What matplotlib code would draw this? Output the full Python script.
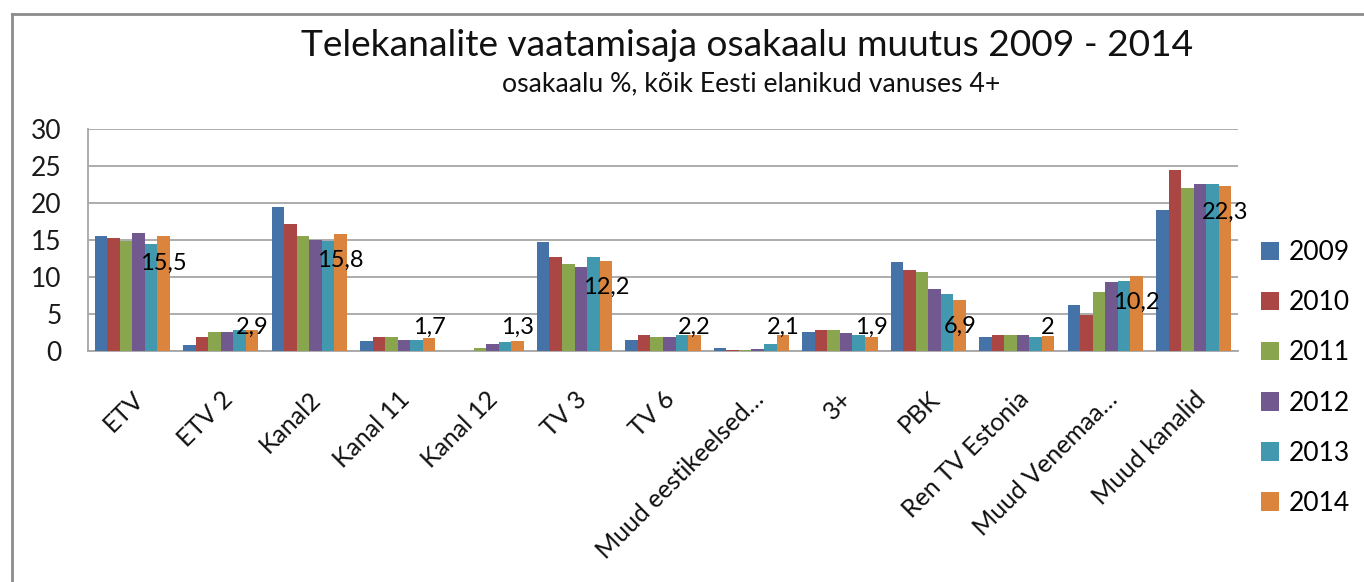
import numpy as np
import matplotlib.pyplot as plt
from matplotlib.lines import Line2D
from matplotlib.patches import Patch

plt.rcParams['font.family'] = ['Lato', 'DejaVu Sans']

# channels and yearly viewing shares (%)
channels = ['ETV', 'ETV 2', 'Kanal2', 'Kanal 11', 'Kanal 12', 'TV 3', 'TV 6',
            'Muud eestikeelsed…', '3+', 'PBK', 'Ren TV Estonia',
            'Muud Venemaa…', 'Muud kanalid']
years = ['2009', '2010', '2011', '2012', '2013', '2014']

share_2009 = [15.6, 0.8, 19.5, 1.4, 0.0, 14.7, 1.5, 0.45, 2.6, 12.0, 1.9, 6.2, 19.0]
share_2010 = [15.3, 1.9, 17.2, 1.9, 0.0, 12.7, 2.1, 0.1, 2.8, 10.9, 2.1, 4.8, 24.4]
share_2011 = [14.9, 2.6, 15.6, 1.9, 0.45, 11.8, 1.9, 0.1, 2.8, 10.7, 2.1, 8.0, 22.0]
share_2012 = [15.9, 2.6, 15.0, 1.5, 1.0, 11.4, 1.9, 0.3, 2.4, 8.4, 2.1, 9.3, 22.6]
share_2013 = [14.5, 2.8, 14.9, 1.5, 1.2, 12.7, 2.1, 1.0, 2.1, 7.7, 1.9, 9.5, 22.6]
share_2014 = [15.5, 2.9, 15.8, 1.7, 1.3, 12.2, 2.2, 2.1, 1.9, 6.9, 2.0, 10.2, 22.3]
labels_2014 = ['15,5', '2,9', '15,8', '1,7', '1,3', '12,2', '2,2', '2,1', '1,9',
               '6,9', '2', '10,2', '22,3']

series = [share_2009, share_2010, share_2011, share_2012, share_2013, share_2014]
colors = ['#4572A7', '#AA4643', '#89A54E', '#71588F', '#4198AF', '#DB843D']

fig = plt.figure(figsize=(13.64, 5.82), dpi=100)
ax = fig.add_axes([88 / 1364, 1 - 351 / 582, 1150 / 1364, 222 / 582])

x = np.arange(len(channels))
w = 0.1417
for i, vals in enumerate(series):
    ax.bar(x + (i - 2.5) * w, vals, width=w, color=colors[i], zorder=3)

# value labels for 2014
for xi, v, lab in zip(x, share_2014, labels_2014):
    ax.text(xi + 2.5 * w, max(v - 3.6, 3.15), lab, ha='center', va='center',
            fontsize=17, color='black', zorder=5)

ax.set_xlim(-0.5, len(channels) - 0.5)
ax.set_ylim(0, 30)
ax.set_yticks(range(0, 31, 5))
ax.yaxis.grid(True, color='#A6A6A6', linewidth=1.3, zorder=0)
ax.set_axisbelow(True)
for s in ['top', 'right']:
    ax.spines[s].set_visible(False)
for s in ['left', 'bottom']:
    ax.spines[s].set_color('#A6A6A6')
    ax.spines[s].set_linewidth(1.3)
ax.tick_params(axis='y', length=0, pad=19, labelsize=19, colors='#1a1a1a')
ax.tick_params(axis='x', length=0, pad=26, labelsize=18, colors='#111111')
ax.set_xticks(x)
ax.set_xticklabels(channels, rotation=45, ha='right', rotation_mode='anchor')

fig.text(0.548, 1 - 45 / 582, 'Telekanalite vaatamisaja osakaalu muutus 2009 - 2014',
         ha='center', va='center', fontsize=26.7, color='#111111')
fig.text(0.551, 1 - 84 / 582, 'osakaalu %, kõik Eesti elanikud vanuses 4+',
         ha='center', va='center', fontsize=19.2, color='#111111')

handles = [Patch(facecolor=c, edgecolor='none') for c in colors]
fig.legend(handles, years, loc='center left',
           bbox_to_anchor=(1237 / 1364, 1 - 378 / 582), frameon=False,
           fontsize=19, handlelength=0.7, handleheight=0.7, handletextpad=0.35,
           labelspacing=0.95)

# outer chart frame (left and top edges visible)
fig.add_artist(Line2D([12 / 1364, 12 / 1364], [0, 1 - 14 / 582],
                      transform=fig.transFigure, color='#8C8C8C', linewidth=2))
fig.add_artist(Line2D([12 / 1364, 1], [1 - 14 / 582, 1 - 14 / 582],
                      transform=fig.transFigure, color='#8C8C8C', linewidth=2))

fig.savefig('out.png', dpi=100)
